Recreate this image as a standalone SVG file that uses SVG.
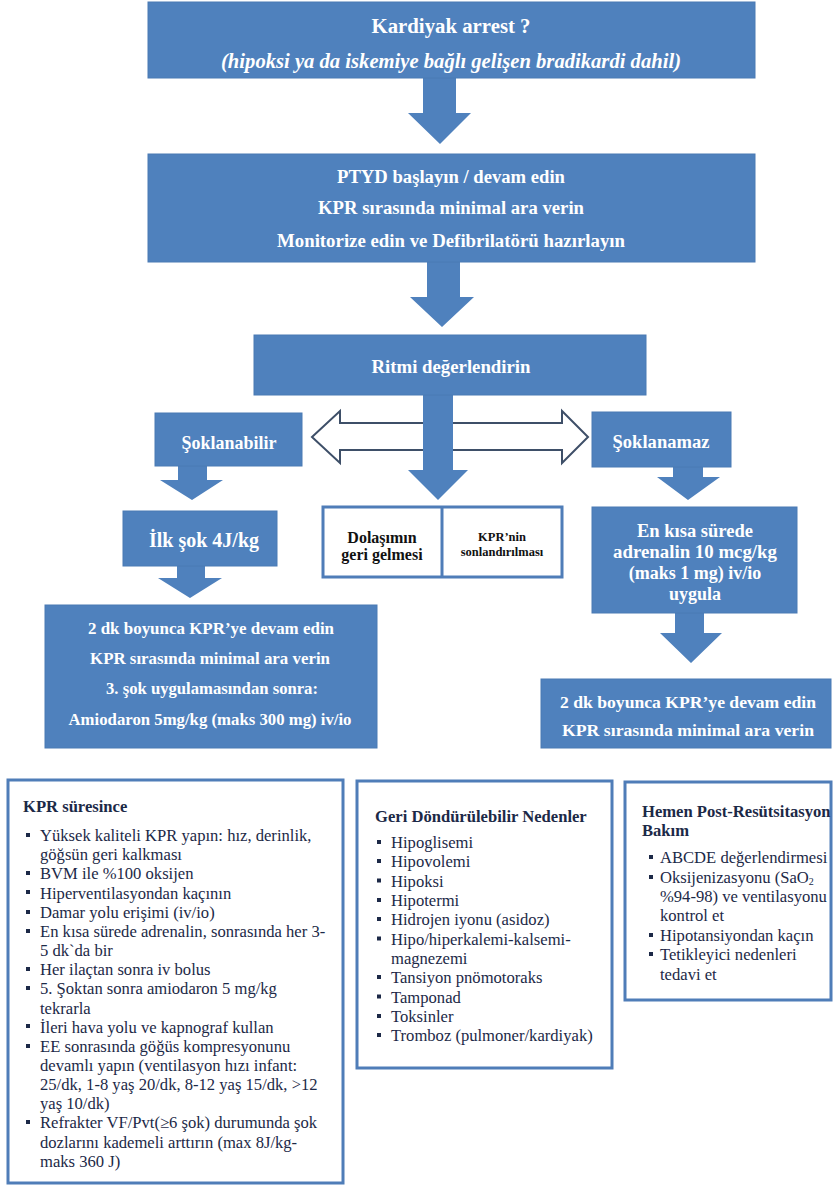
<svg xmlns="http://www.w3.org/2000/svg" width="833" height="1186" viewBox="0 0 833 1186">
<style>
.blk{fill:#4f81bd;stroke:#4a7ab4;stroke-width:1}
.arr{fill:#4f81bd}
.wt{font-family:'Liberation Serif','Times New Roman',serif;font-weight:bold;fill:#ffffff;text-anchor:middle}
.bx{fill:#ffffff;stroke:#4f7db8;stroke-width:3}
.bt{font-family:'Liberation Serif','Times New Roman',serif;font-size:16.6px;fill:#1c2947}
.bh{font-weight:bold}
.bul{fill:#1c2947}
.blkt{font-family:'Liberation Serif','Times New Roman',serif;font-weight:bold;fill:#111111;text-anchor:middle}
</style>
<rect width="833" height="1186" fill="#ffffff"/>

<g id="connectors">
  <polygon id="dbl-arrow" points="312,437 340,411 340,423 562,423 562,411 588,437 562,463 562,450 340,450 340,463" fill="#ffffff" stroke="#3e4f68" stroke-width="2" stroke-linejoin="miter"/>
  <polygon class="arr" points="423,78 456,78 456,113 471,113 440,144 408,113 423,113"/>
  <polygon class="arr" points="427,262 460,262 460,297 474,297 442,327 410,297 427,297"/>
  <polygon class="arr" points="423,395 453,395 453,470 468,470 438,500 408,470 423,470"/>
  <polygon class="arr" points="178,466 207,466 207,480 223,480 192,500 160,480 178,480"/>
  <polygon class="arr" points="177,566 205,566 205,578 222,578 190,598 158,578 177,578"/>
  <polygon class="arr" points="673,467 703,467 703,477 720,477 688,500 657,477 673,477"/>
  <polygon class="arr" points="675,613 704,613 704,633 722,633 691,663 660,633 675,633"/>
</g>

<g id="n-kardiyak">
  <rect class="blk" x="148" y="2" width="607" height="76"/>
  <text class="wt" x="451" y="33" font-size="20" textLength="159" lengthAdjust="spacingAndGlyphs">Kardiyak arrest ?</text>
  <text class="wt" x="451" y="68" font-size="20" font-style="italic" textLength="460" lengthAdjust="spacingAndGlyphs">(hipoksi ya da iskemiye bağlı gelişen bradikardi dahil)</text>
</g>

<g id="n-ptyd">
  <rect class="blk" x="148" y="154" width="607" height="108"/>
  <text class="wt" x="451" y="183" font-size="18.5" textLength="228" lengthAdjust="spacingAndGlyphs">PTYD başlayın / devam edin</text>
  <text class="wt" x="451" y="214" font-size="18.5" textLength="266" lengthAdjust="spacingAndGlyphs">KPR sırasında minimal ara verin</text>
  <text class="wt" x="451" y="247" font-size="18.5" textLength="348" lengthAdjust="spacingAndGlyphs">Monitorize edin ve Defibrilatörü hazırlayın</text>
</g>

<g id="n-ritim">
  <rect class="blk" x="254" y="335" width="392" height="60"/>
  <text class="wt" x="451" y="373" font-size="18.5" textLength="159" lengthAdjust="spacingAndGlyphs">Ritmi değerlendirin</text>
</g>

<g id="n-soklanabilir">
  <rect class="blk" x="155" y="413" width="147" height="53"/>
  <text class="wt" x="229" y="449" font-size="18" textLength="95" lengthAdjust="spacingAndGlyphs">Şoklanabilir</text>
</g>

<g id="n-soklanamaz">
  <rect class="blk" x="592" y="412" width="139" height="55"/>
  <text class="wt" x="661" y="448" font-size="18" textLength="97" lengthAdjust="spacingAndGlyphs">Şoklanamaz</text>
</g>

<g id="n-ilksok">
  <rect class="blk" x="123" y="511" width="154" height="55"/>
  <text class="wt" x="204" y="547" font-size="20" textLength="110" lengthAdjust="spacingAndGlyphs">İlk şok 4J/kg</text>
</g>

<g id="n-dolasim">
  <rect class="bx" x="323" y="507" width="239" height="70"/>
  <line x1="442" y1="507" x2="442" y2="577" stroke="#4f7db8" stroke-width="3"/>
  <text class="blkt" x="382" y="543" font-size="16">Dolaşımın</text>
  <text class="blkt" x="382" y="560" font-size="16">geri gelmesi</text>
  <text class="blkt" x="502" y="541" font-size="12.5">KPR’nin</text>
  <text class="blkt" x="502" y="556" font-size="12.5">sonlandırılması</text>
</g>

<g id="n-adrenalin">
  <rect class="blk" x="592" y="507" width="205" height="106"/>
  <text class="wt" x="695" y="537" font-size="18" textLength="116" lengthAdjust="spacingAndGlyphs">En kısa sürede</text>
  <text class="wt" x="695" y="558" font-size="18" textLength="164" lengthAdjust="spacingAndGlyphs">adrenalin 10 mcg/kg</text>
  <text class="wt" x="695" y="579" font-size="18">(maks 1 mg) iv/io</text>
  <text class="wt" x="695" y="600" font-size="18">uygula</text>
</g>

<g id="n-kpr-sol">
  <rect class="blk" x="45" y="605" width="332" height="143"/>
  <text class="wt" x="211" y="634" font-size="17.5" textLength="246" lengthAdjust="spacingAndGlyphs">2 dk boyunca KPR’ye devam edin</text>
  <text class="wt" x="210" y="664" font-size="17.5" textLength="240" lengthAdjust="spacingAndGlyphs">KPR sırasında minimal ara verin</text>
  <text class="wt" x="212" y="694" font-size="17.5" textLength="212" lengthAdjust="spacingAndGlyphs">3. şok uygulamasından sonra:</text>
  <text class="wt" x="210" y="725" font-size="17.5" textLength="283" lengthAdjust="spacingAndGlyphs">Amiodaron 5mg/kg (maks 300 mg) iv/io</text>
</g>

<g id="n-kpr-sag">
  <rect class="blk" x="541" y="679" width="290" height="69"/>
  <text class="wt" x="688" y="708" font-size="17.5" textLength="256" lengthAdjust="spacingAndGlyphs">2 dk boyunca KPR’ye devam edin</text>
  <text class="wt" x="688" y="736" font-size="17.5" textLength="252" lengthAdjust="spacingAndGlyphs">KPR sırasında minimal ara verin</text>
</g>

<g id="n-kpr-suresince">
  <rect class="bx" x="8" y="780" width="335" height="403"/>
  <text class="bt bh" x="23" y="812">KPR süresince</text>
  <g class="bul">
    <rect x="26" y="833" width="4" height="4"/>
    <rect x="26" y="871" width="4" height="4"/>
    <rect x="26" y="890" width="4" height="4"/>
    <rect x="26" y="910" width="4" height="4"/>
    <rect x="26" y="929" width="4" height="4"/>
    <rect x="26" y="967" width="4" height="4"/>
    <rect x="26" y="986" width="4" height="4"/>
    <rect x="26" y="1024" width="4" height="4"/>
    <rect x="26" y="1044" width="4" height="4"/>
    <rect x="26" y="1120" width="4" height="4"/>
  </g>
  <text class="bt" x="40" y="841">Yüksek kaliteli KPR yapın: hız, derinlik,</text>
  <text class="bt" x="40" y="860">göğsün geri kalkması</text>
  <text class="bt" x="40" y="879">BVM ile %100 oksijen</text>
  <text class="bt" x="40" y="898.5">Hiperventilasyondan kaçının</text>
  <text class="bt" x="40" y="917.5">Damar yolu erişimi (iv/io)</text>
  <text class="bt" x="40" y="937">En kısa sürede adrenalin, sonrasında her 3-</text>
  <text class="bt" x="40" y="956">5 dk`da bir</text>
  <text class="bt" x="40" y="975">Her ilaçtan sonra iv bolus</text>
  <text class="bt" x="40" y="994">5. Şoktan sonra amiodaron 5 mg/kg</text>
  <text class="bt" x="40" y="1013.5">tekrarla</text>
  <text class="bt" x="40" y="1032.5">İleri hava yolu ve kapnograf kullan</text>
  <text class="bt" x="40" y="1052">EE sonrasında göğüs kompresyonunu</text>
  <text class="bt" x="40" y="1071">devamlı yapın (ventilasyon hızı infant:</text>
  <text class="bt" x="40" y="1090">25/dk, 1-8 yaş 20/dk, 8-12 yaş 15/dk, &gt;12</text>
  <text class="bt" x="40" y="1109">yaş 10/dk)</text>
  <text class="bt" x="40" y="1128">Refrakter VF/Pvt(≥6 şok) durumunda şok</text>
  <text class="bt" x="40" y="1147.5">dozlarını kademeli arttırın (max 8J/kg-</text>
  <text class="bt" x="40" y="1166.5">maks 360 J)</text>
</g>

<g id="n-geri-donduru">
  <rect class="bx" x="357" y="781" width="255" height="287"/>
  <text class="bt bh" x="375" y="822">Geri Döndürülebilir Nedenler</text>
  <g class="bul">
    <rect x="377" y="840" width="4" height="4"/>
    <rect x="377" y="859" width="4" height="4"/>
    <rect x="377" y="878.5" width="4" height="4"/>
    <rect x="377" y="898" width="4" height="4"/>
    <rect x="377" y="917" width="4" height="4"/>
    <rect x="377" y="936.5" width="4" height="4"/>
    <rect x="377" y="975" width="4" height="4"/>
    <rect x="377" y="994.5" width="4" height="4"/>
    <rect x="377" y="1014" width="4" height="4"/>
    <rect x="377" y="1033" width="4" height="4"/>
  </g>
  <text class="bt" x="391" y="848">Hipoglisemi</text>
  <text class="bt" x="391" y="867">Hipovolemi</text>
  <text class="bt" x="391" y="886.5">Hipoksi</text>
  <text class="bt" x="391" y="906">Hipotermi</text>
  <text class="bt" x="391" y="925">Hidrojen iyonu (asidoz)</text>
  <text class="bt" x="391" y="944.5">Hipo/hiperkalemi-kalsemi-</text>
  <text class="bt" x="391" y="964">magnezemi</text>
  <text class="bt" x="391" y="983">Tansiyon pnömotoraks</text>
  <text class="bt" x="391" y="1002.5">Tamponad</text>
  <text class="bt" x="391" y="1022">Toksinler</text>
  <text class="bt" x="391" y="1041">Tromboz (pulmoner/kardiyak)</text>
</g>

<g id="n-post-resusitasyon">
  <rect class="bx" x="625" y="782" width="206" height="218"/>
  <text class="bt bh" x="642" y="817" font-size="16.2">Hemen Post-Resütsitasyon</text>
  <text class="bt bh" x="642" y="836" font-size="16.2">Bakım</text>
  <g class="bul">
    <rect x="649" y="855" width="4" height="4"/>
    <rect x="649" y="875" width="4" height="4"/>
    <rect x="649" y="933" width="4" height="4"/>
    <rect x="649" y="952" width="4" height="4"/>
  </g>
  <text class="bt" x="660" y="863">ABCDE değerlendirmesi</text>
  <text class="bt" x="660" y="883">Oksijenizasyonu (SaO<tspan font-size="10" dy="2">2</tspan></text>
  <text class="bt" x="660" y="902">%94-98) ve ventilasyonu</text>
  <text class="bt" x="660" y="921">kontrol et</text>
  <text class="bt" x="660" y="941">Hipotansiyondan kaçın</text>
  <text class="bt" x="660" y="960">Tetikleyici nedenleri</text>
  <text class="bt" x="660" y="980">tedavi et</text>
</g>
</svg>
